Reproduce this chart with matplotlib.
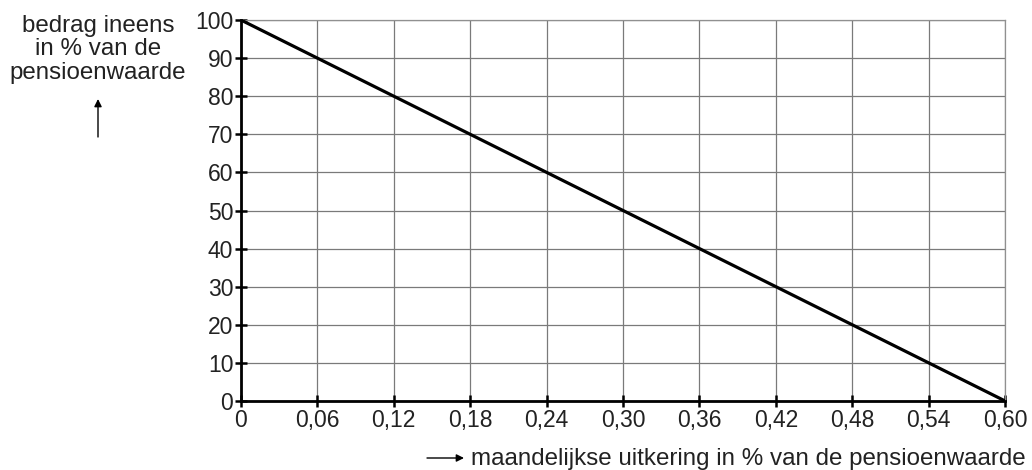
import matplotlib
matplotlib.use("Agg")
import matplotlib.pyplot as plt

# data
uitkering = [0.0, 0.60]
bedrag = [100, 0]
x_ticks = [0, 0.06, 0.12, 0.18, 0.24, 0.30, 0.36, 0.42, 0.48, 0.54, 0.60]
x_labels = ["0", "0,06", "0,12", "0,18", "0,24", "0,30", "0,36", "0,42", "0,48", "0,54", "0,60"]
y_ticks = list(range(0, 101, 10))

plt.rcParams['font.family'] = ['Liberation Sans', 'DejaVu Sans']

fig = plt.figure(figsize=(10.32, 4.70), dpi=100)
ax = fig.add_axes([0.2335, 0.1468, 0.7405, 0.8106])

ax.plot(uitkering, bedrag, color='black', lw=2.3, solid_capstyle='butt', zorder=3)

ax.set_xlim(0, 0.60)
ax.set_ylim(0, 100)
ax.set_xticks(x_ticks)
ax.set_xticklabels(x_labels)
ax.set_yticks(y_ticks)
ax.grid(True, color='#7a7a7a', lw=0.9)
ax.set_axisbelow(True)

for side in ['top', 'right']:
    ax.spines[side].set_color('#909090')
    ax.spines[side].set_linewidth(0.9)
for side in ['left', 'bottom']:
    ax.spines[side].set_color('black')
    ax.spines[side].set_linewidth(2.0)
    ax.spines[side].set_zorder(4)

ax.tick_params(axis='both', direction='inout', length=9, width=1.8,
               labelsize=16.5, colors='black', labelcolor='#222222', pad=1)

# axis labels with arrows
fig.text(98 / 1032, 1 - 15 / 470, "bedrag ineens\nin % van de\npensioenwaarde",
         ha='center', va='top', fontsize=17.4, color='#222222', linespacing=1.08)
fig.add_artist(plt.Annotation("", xy=(98 / 1032, 1 - 99 / 470), xytext=(98 / 1032, 1 - 137 / 470),
                              xycoords='figure fraction', textcoords='figure fraction',
                              arrowprops=dict(arrowstyle='-|>', color='black', lw=1.0,
                                              mutation_scale=11, shrinkA=0, shrinkB=0)))
fig.add_artist(plt.Annotation("", xy=(464 / 1032, 1 - 458 / 470), xytext=(427 / 1032, 1 - 458 / 470),
                              xycoords='figure fraction', textcoords='figure fraction',
                              arrowprops=dict(arrowstyle='-|>', color='black', lw=1.0,
                                              mutation_scale=11, shrinkA=0, shrinkB=0)))
fig.text(1026 / 1032, 1 - 459 / 470, "maandelijkse uitkering in % van de pensioenwaarde",
         ha='right', va='center', fontsize=17.4, color='#222222')

fig.savefig("out.png", dpi=100)
